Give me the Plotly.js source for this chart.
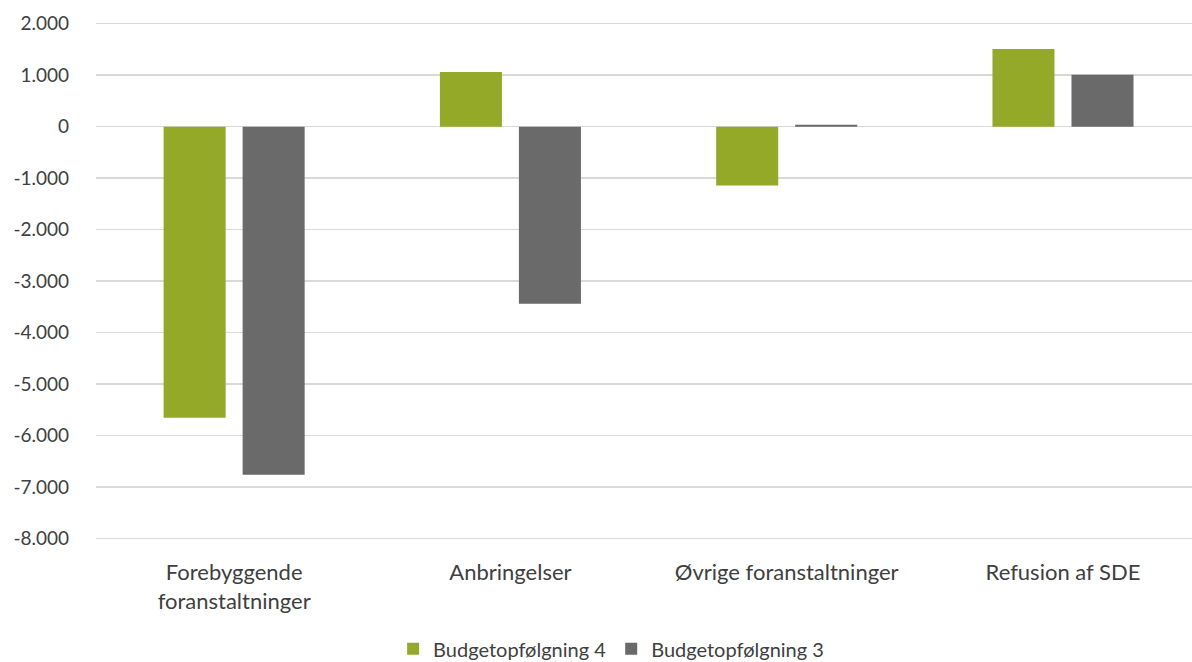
<!DOCTYPE html>
<html>
<head>
<meta charset="utf-8">
<script src="https://cdn.plot.ly/plotly-3.0.1.min.js"></script>
<style>html,body{margin:0;padding:0;background:#fff;}#chart{width:1192px;height:662px;}</style>
</head>
<body>
<div id="chart"></div>
<script>
const categories = ["Forebyggende<br>foranstaltninger", "Anbringelser", "Øvrige foranstaltninger", "Refusion af SDE"];
const seriesNames = ["Budgetopfølgning 4", "Budgetopfølgning 3"];
const budget4 = [-5650, 1060, -1140, 1510];
const budget3 = [-6760, -3440, 40, 1010];
const yTickVals = [2000, 1000, 0, -1000, -2000, -3000, -4000, -5000, -6000, -7000, -8000];
const yTickText = ["2.000", "1.000", "0", "-1.000", "-2.000", "-3.000", "-4.000", "-5.000", "-6.000", "-7.000", "-8.000"];

const fam = "Lato, 'Open Sans', sans-serif";
const traces = [
  {type: "bar", name: seriesNames[0], x: categories, y: budget4, marker: {color: "#95A928"}, hoverinfo: "skip"},
  {type: "bar", name: seriesNames[1], x: categories, y: budget3, marker: {color: "#6A6A6A"}, hoverinfo: "skip"}
];
const layout = {
  width: 1192, height: 662,
  margin: {l: 96, r: 0, t: 10, b: 107},
  paper_bgcolor: "#fff", plot_bgcolor: "#fff",
  font: {family: fam, size: 18, color: "#404040"},
  barmode: "group", bargap: 0.428, bargroupgap: 0.215,
  showlegend: true,
  legend: {orientation: "h", x: 0.47, xanchor: "center", yref: "container", y: 0.02, yanchor: "middle",
           font: {family: fam, size: 20, color: "#404040"}, itemwidth: 30, traceorder: "normal"},
  xaxis: {type: "category", range: [-0.5, 3.467], showgrid: false, zeroline: false, showline: false, ticks: "",
          ticklabelstandoff: 2, tickfont: {family: fam, size: 22, color: "#404040"}, fixedrange: true},
  yaxis: {range: [-8316, 2266], tickvals: yTickVals, ticktext: yTickText, showgrid: true, gridcolor: "#D9D9D9", gridwidth: 1.5,
          zeroline: true, zerolinecolor: "#D9D9D9", zerolinewidth: 1.5, showline: false, ticks: "", ticklabelstandoff: 26,
          tickfont: {family: fam, size: 19, color: "#404040"}, fixedrange: true}
};
Plotly.newPlot("chart", traces, layout, {staticPlot: true, displayModeBar: false});
</script>
</body>
</html>
